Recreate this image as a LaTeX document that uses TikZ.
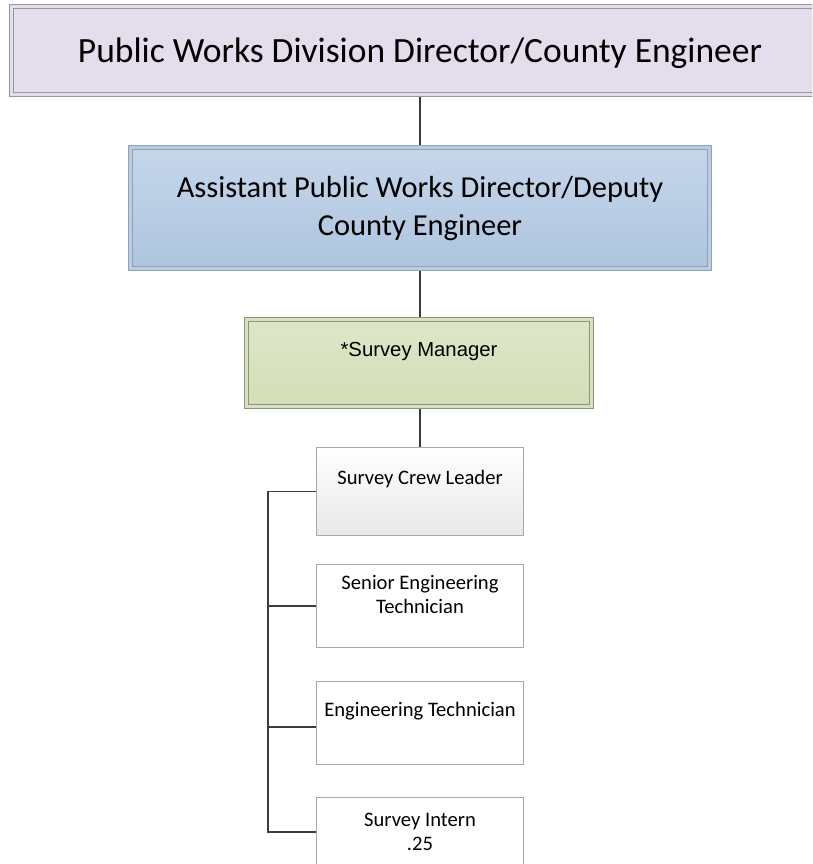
\documentclass[tikz,border=0pt]{standalone}
\usepackage{fontspec}
\setmainfont{Carlito}
\newfontfamily\arialf{Liberation Sans}
\usetikzlibrary{shadows}
\definecolor{topfill}{HTML}{E4DEEC}
\definecolor{topline}{HTML}{9A94A2}
\definecolor{bluetop}{HTML}{C5D6EA}
\definecolor{bluebot}{HTML}{AEC5DF}
\definecolor{bluemid}{HTML}{B9CDE4}
\definecolor{blueline}{HTML}{8FA2B6}
\definecolor{greentop}{HTML}{DEE6C8}
\definecolor{greenbot}{HTML}{D3DEB6}
\definecolor{greenmid}{HTML}{D8E2BF}
\definecolor{greenline}{HTML}{8C947F}
\definecolor{smallline}{HTML}{A8A8A8}
\definecolor{greybot}{HTML}{E8E8E8}
\definecolor{conn}{HTML}{3C3C3C}
\tikzset{
  dblbox/.style={rectangle, line width=0.9pt, double distance=3.5pt, inner sep=0pt,
    drop shadow={shadow xshift=2.5pt, shadow yshift=-2.5pt, fill=black, opacity=0.22}},
  smallbox/.style={rectangle, draw=smallline, line width=1pt, fill=white, inner sep=0pt,
    minimum width=207pt, minimum height=83pt},
  txt/.style={inner sep=0pt, align=center, text=black},
  link/.style={draw=conn, line width=1.8pt}
}
\begin{document}
\begin{tikzpicture}[x=1pt,y=-1pt]
\useasboundingbox (0,0) rectangle (812,864);
\clip (0,0) rectangle (812,864);
% connectors (drawn first, boxes on top)
\coordinate (c1) at (420,97);
\coordinate (c2) at (420,145);
\coordinate (c3) at (420,271);
\coordinate (c4) at (420,317);
\coordinate (c5) at (420,409);
\coordinate (c6) at (420,447);
\draw[link] (c1) -- (c2);
\draw[link] (c3) -- (c4);
\draw[link] (c5) -- (c6);
% boxes
\node[dblbox, draw=topline, fill=topfill, double=topfill,
  minimum width=836.7pt, minimum height=87.7pt] (n1) at (430,50.5) {};
\node[dblbox, draw=blueline, top color=bluetop, bottom color=bluebot, double=bluemid,
  minimum width=578.7pt, minimum height=120.7pt] (n2) at (420,208) {};
\node[dblbox, draw=greenline, top color=greentop, bottom color=greenbot, double=greenmid,
  minimum width=344.7pt, minimum height=86.7pt] (n3) at (419,363) {};
\node[smallbox, top color=white, bottom color=greybot, minimum height=88pt] (n5) at (420,491.5) {};
\node[smallbox] (n6) at (420,606) {};
\node[smallbox] (n7) at (420,723) {};
\node[smallbox] (n8) at (420,839) {};
% bracket
\draw[link] ([yshift=7pt]n8.west) -- ++(-48,0) |- (n5.west);
\draw[link] (n6.west) -- ++(-48,0);
\draw[link] ([yshift=-4pt]n7.west) -- ++(-48,0);
% texts
\node[txt, font=\fontsize{35.5}{42}\selectfont] (t1) at (420,53) {Public Works Division Director/County Engineer};
\node[txt, font=\fontsize{30.5}{38}\selectfont] (t2) at (420,209) {Assistant Public Works Director/Deputy\\County Engineer};
\node[txt, font=\arialf\fontsize{20.3}{24}\selectfont] (t3) at (419,352) {*Survey Manager};
\node[txt, font=\fontsize{20.6}{24}\selectfont] (t5) at (420,479) {Survey Crew Leader};
\node[txt, font=\fontsize{20.6}{24}\selectfont] (t6) at (420,594) {Senior Engineering\\Technician};
\node[txt, font=\fontsize{20.6}{24}\selectfont] (t7) at (420,711) {Engineering Technician};
\node[txt, font=\fontsize{20.6}{24}\selectfont] (t8) at (420,832) {Survey Intern\\.25};
\end{tikzpicture}
\end{document}
